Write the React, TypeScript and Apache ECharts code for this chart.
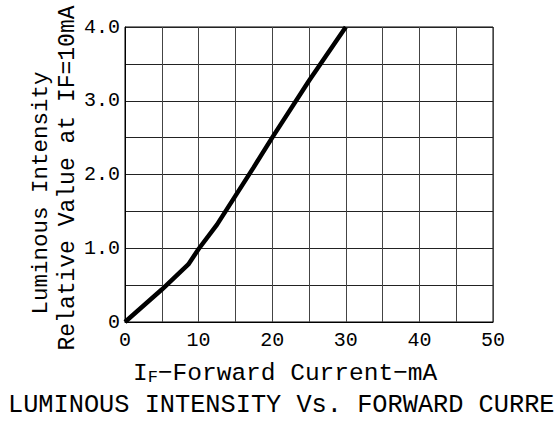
import React, { useEffect, useRef } from "react";
import * as echarts from "echarts";

const currentMA = [0, 5, 8.6, 10, 12.5, 15, 17.5, 20, 25, 30];
const relIntensity = [0, 0.44, 0.78, 0.99, 1.32, 1.71, 2.1, 2.5, 3.27, 4.0];
const xTicks = [0, 10, 20, 30, 40, 50];
const yTicks = [0, 1, 2, 3, 4];
const yNameLine1 = "Luminous Intensity";
const yNameLine2 = "Relative Value at IF=10mA";
const xName = "−Forward Current−mA";
const titleText = "LUMINOUS INTENSITY Vs. FORWARD CURRE";

const FONT = "'Liberation Mono', 'Courier New', monospace";

export default function App() {
  const ref = useRef<HTMLDivElement>(null);
  useEffect(() => {
    if (!ref.current) return;
    const chart = echarts.init(ref.current, undefined, { renderer: "svg" });
    const data = currentMA.map((x, i) => [x, relIntensity[i]]);
    chart.setOption({
      animation: false,
      backgroundColor: "#ffffff",
      grid: {
        left: 125,
        right: 67,
        top: 27,
        bottom: 104,
        show: true,
        borderColor: "#000",
        borderWidth: 1,
      },
      xAxis: {
        type: "value",
        min: 0,
        max: 50,
        interval: 5,
        axisLine: { show: true, lineStyle: { color: "#000", width: 1 } },
        axisTick: { show: false },
        splitLine: { show: true, lineStyle: { color: "#444", width: 1 } },
        axisLabel: {
          color: "#000",
          fontFamily: FONT,
          fontSize: 20,
          margin: 8,
          showMinLabel: true,
          showMaxLabel: true,
          formatter: (v: number) => (xTicks.includes(v) ? String(v) : ""),
        },
      },
      yAxis: {
        type: "value",
        min: 0,
        max: 4,
        interval: 0.5,
        axisLine: { show: true, lineStyle: { color: "#000", width: 1 } },
        axisTick: { show: false },
        splitLine: { show: true, lineStyle: { color: "#222", width: 1 } },
        axisLabel: {
          color: "#000",
          fontFamily: FONT,
          fontSize: 20,
          margin: 5,
          showMinLabel: true,
          showMaxLabel: true,
          formatter: (v: number) =>
            yTicks.includes(v) ? (v === 0 ? "0" : v.toFixed(1)) : "",
        },
      },
      series: [
        {
          type: "line",
          data,
          showSymbol: false,
          symbol: "none",
          smooth: false,
          lineStyle: { color: "#000", width: 4.5 },
        },
      ],
      graphic: [
        {
          type: "text",
          x: 41,
          y: 193,
          rotation: Math.PI / 2,
          style: {
            text: yNameLine1,
            fontFamily: FONT,
            fontSize: 22.5,
            fill: "#000",
            align: "center",
            verticalAlign: "middle",
          },
        },
        {
          type: "text",
          x: 68,
          y: 178,
          rotation: Math.PI / 2,
          style: {
            text: yNameLine2,
            fontFamily: FONT,
            fontSize: 23,
            fill: "#000",
            align: "center",
            verticalAlign: "middle",
          },
        },
        {
          type: "text",
          x: 133,
          y: 373,
          style: {
            text: "{a|I}{b|F}{a|" + xName + "}",
            fontFamily: FONT,
            fill: "#000",
            verticalAlign: "middle",
            rich: {
              a: { fontFamily: FONT, fontSize: 24.5, fill: "#000", verticalAlign: "bottom" },
              b: { fontFamily: FONT, fontSize: 17, fill: "#000", verticalAlign: "bottom" },
            },
          },
        },
        {
          type: "text",
          x: 8,
          y: 405,
          style: {
            text: titleText,
            fontFamily: FONT,
            fontSize: 25.3,
            fill: "#000",
            verticalAlign: "middle",
          },
        },
      ],
    });
    return () => chart.dispose();
  }, []);
  return (
    <div
      ref={ref}
      style={{ position: "fixed", left: 0, top: 0, width: 560, height: 426 }}
    />
  );
}
